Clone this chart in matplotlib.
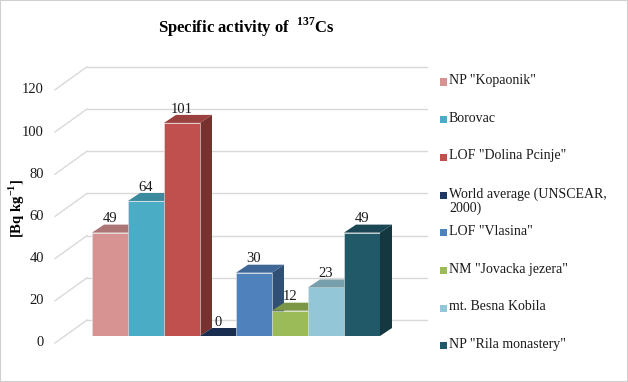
import numpy as np
import matplotlib.pyplot as plt
from matplotlib.patches import Polygon, Rectangle
from matplotlib.colors import to_rgb

plt.rcParams['font.family'] = ['Liberation Serif', 'DejaVu Serif']
plt.rcParams['mathtext.fontset'] = 'custom'
plt.rcParams['mathtext.rm'] = 'Liberation Serif'
plt.rcParams['mathtext.bf'] = 'Liberation Serif:bold'

# data
sites = ['NP "Kopaonik"', 'Borovac', 'LOF "Dolina Pcinje"',
         'World average (UNSCEAR,\n2000)', 'LOF "Vlasina"',
         'NM "Jovacka jezera"', 'mt. Besna Kobila', 'NP "Rila monastery"']
activity = [49, 64, 101, 0, 30, 12, 23, 49]
colors = ['#D69392', '#4BACC6', '#C0504D', '#1F3864',
          '#4F81BD', '#9BBB59', '#93C6D6', '#215968']
yticks = [0, 20, 40, 60, 80, 100, 120]

W, H = 628, 382
fig = plt.figure(figsize=(W / 100, H / 100), dpi=100)

# axes = front plane of the bars
ax = fig.add_axes([92 / W, 46 / H, 288 / W, 253.2 / H])
ax.set_xlim(-0.5, 7.5)
ax.set_ylim(0, 120)
ax.axis('off')

sx = 288 / 8        # pixels per bar
sy = 253.2 / 120    # pixels per Bq/kg


def px(dx, dy):
    # pixel offsets -> data offsets
    return dx / sx, dy / sy


def shade(c, f):
    return tuple(np.array(to_rgb(c)) * f)


grid_c = '#d9d9d9'
# back wall gridlines and left side wall diagonals
wx0, wdy = px(-5, 16)      # back wall left edge / lift relative to bar front
wx1, _ = px(335, 16)
fx, fdy = px(-37, -7)      # front edge of the side wall
for v in yticks:
    ax.plot([-0.5 + wx0, -0.5 + wx1], [v + wdy, v + wdy], color=grid_c,
            lw=1, clip_on=False, zorder=0)
    ax.plot([-0.5 + fx, -0.5 + wx0], [v + fdy, v + wdy], color=grid_c,
            lw=1, clip_on=False, zorder=0)
    lx, _ = px(-48, 0)
    ax.text(-0.5 + lx, v + fdy, str(v), ha='right', va='center',
            fontsize=10.5, color='#1a1a1a', clip_on=False)

# 3d looking bars
ddx, ddy = px(12, 8)
for i, (v, c) in enumerate(zip(activity, colors)):
    z = 2 + i
    ax.bar(i, v, width=1, color=c, edgecolor='#e6e6e6', linewidth=0.4,
           zorder=z + 0.5)
    top = [(i - 0.5, v), (i + 0.5, v), (i + 0.5 + ddx, v + ddy),
           (i - 0.5 + ddx, v + ddy)]
    side = [(i + 0.5, 0), (i + 0.5, v), (i + 0.5 + ddx, v + ddy),
            (i + 0.5 + ddx, ddy)]
    ax.add_patch(Polygon(side, closed=True, fc=shade(c, 0.62), ec='none',
                         zorder=z, clip_on=False))
    ax.add_patch(Polygon(top, closed=True, fc=shade(c, 0.8), ec='none',
                         zorder=z + 0.6, clip_on=False))
    ax.annotate(str(v), (i, v), xytext=(0, 10), textcoords='offset points',
                ha='center', va='center', fontsize=10.5, color='#1a1a1a',
                zorder=20, annotation_clip=False)

# titles
fig.text(246 / W, 1 - 27 / H, r'Specific activity of  $^{\mathbf{137}}$Cs',
         ha='center', va='center', fontsize=12, fontweight='bold')
fig.text(17 / W, 1 - 208 / H, r'[Bq kg$^{\mathbf{-1}}$]', rotation=90,
         ha='center', va='center', fontsize=10.5, fontweight='bold')

# legend
for i, (name, c) in enumerate(zip(sites, colors)):
    yc = 82 + 37.7 * i
    fig.patches.append(Rectangle((440 / W, 1 - (yc + 3.5) / H), 7 / W, 7 / H,
                                 transform=fig.transFigure, fc=c, ec='none'))
    fig.text(449 / W, 1 - (yc - 8) / H, name, ha='left', va='top',
             fontsize=10, linespacing=1.08, color='#1a1a1a')

# outer border
fig.patches.append(Rectangle((0, 0), 1, 1, transform=fig.transFigure,
                             fc='none', ec='#d0d0d0', lw=1.5))

fig.savefig('out.png', dpi=100)
